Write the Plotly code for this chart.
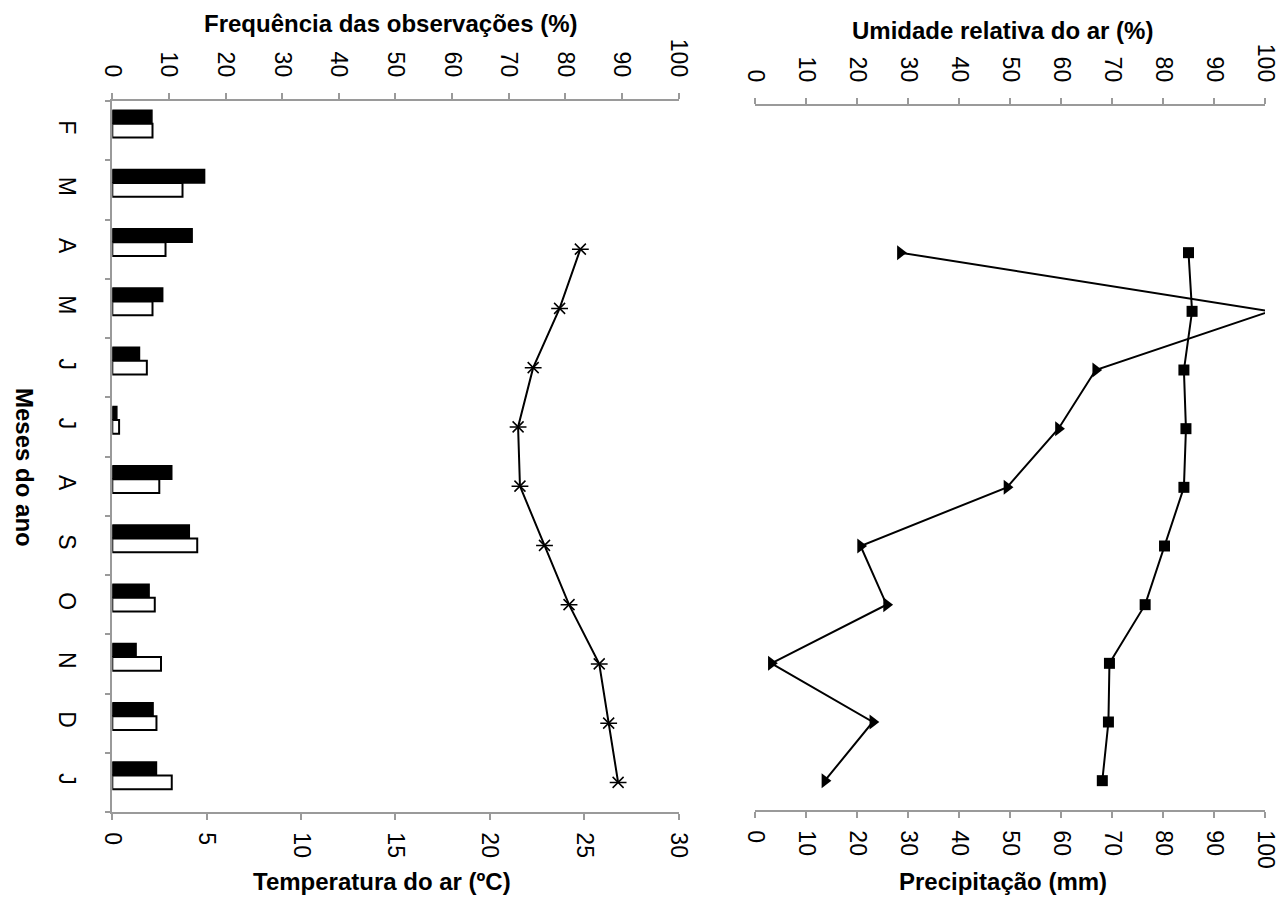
import plotly.graph_objects as go

# Months of the year (Feb through Jan)
months = ["F", "M", "A", "M", "J", "J", "A", "S", "O", "N", "D", "J"]

# Frequency of observations (%) - two series of bars
freq_black = [7.0, 16.3, 14.1, 8.9, 4.8, 0.8, 10.5, 13.6, 6.5, 4.2, 7.2, 7.8]
freq_white = [7.1, 12.4, 9.4, 7.1, 6.1, 1.2, 8.3, 15.0, 7.5, 8.6, 7.8, 10.5]

# Air temperature (ºC)
temperature = [None, None, 24.8, 23.7, 22.3, 21.5, 21.6, 22.9, 24.2, 25.8, 26.3, 26.8]

# Relative humidity (%)
humidity = [None, None, 85.0, 85.7, 84.1, 84.5, 84.1, 80.3, 76.5, 69.5, 69.3, 68.1]

# Precipitation (mm); March runs past the top of the scale
precipitation = [None, None, 28.5, 101.0, 66.8, 59.5, 49.4, 20.7, 25.8, 3.2, 23.1, 13.7]

pos = list(range(len(months)))

W, H = 1285, 901
FONT = "Liberation Sans, Arial, sans-serif"
AXIS_GREY = "#9a9a9a"


def px_x(v):
    return v / W


def px_y(v):
    return 1 - v / H


fig = go.Figure()

bar_w = 0.228
fig.add_trace(go.Bar(
    x=freq_black, y=pos, orientation="h", xaxis="x2", yaxis="y",
    width=bar_w, offset=-1.5 * bar_w,
    marker=dict(color="black", line=dict(color="black", width=1.5)),
    showlegend=False,
))
fig.add_trace(go.Bar(
    x=freq_white, y=pos, orientation="h", xaxis="x2", yaxis="y",
    width=bar_w, offset=-0.5 * bar_w,
    marker=dict(color="white", line=dict(color="black", width=2)),
    showlegend=False,
))

# Temperature: line with star markers (x plus a bar)
fig.add_trace(go.Scatter(
    x=temperature, y=pos, xaxis="x", yaxis="y", mode="lines+markers",
    line=dict(color="black", width=2),
    marker=dict(symbol="x-thin-open", size=11, color="black",
                line=dict(color="black", width=1.5)),
    showlegend=False,
))
fig.add_trace(go.Scatter(
    x=temperature, y=pos, xaxis="x", yaxis="y", mode="markers",
    marker=dict(symbol="line-ew-open", size=12, color="black",
                line=dict(color="black", width=1.5)),
    showlegend=False,
))

# Relative humidity: squares
fig.add_trace(go.Scatter(
    x=humidity, y=pos, xaxis="x4", yaxis="y2", mode="lines+markers",
    line=dict(color="black", width=2),
    marker=dict(symbol="square", size=11, color="black"),
    showlegend=False,
))

# Precipitation: triangles
fig.add_trace(go.Scatter(
    x=precipitation, y=pos, xaxis="x3", yaxis="y2", mode="lines+markers",
    line=dict(color="black", width=2),
    marker=dict(symbol="triangle-right", size=13, color="black"),
    cliponaxis=True,
    showlegend=False,
))

tickfont = dict(family=FONT, size=23, color="black")

left_dom = [px_x(112.3), px_x(678.5)]
right_dom = [px_x(755), px_x(1265)]
left_ydom = [px_y(812), px_y(101)]
right_ydom = [px_y(810), px_y(106)]

common_x = dict(
    showgrid=False, zeroline=False, showline=True, linecolor=AXIS_GREY, linewidth=1.5,
    ticks="outside", ticklen=6, tickcolor=AXIS_GREY, tickwidth=1.5,
    tickangle=90, tickfont=tickfont, ticklabelstandoff=8, automargin=False,
)

fig.update_layout(
    width=W, height=H,
    margin=dict(l=0, r=0, t=0, b=0),
    paper_bgcolor="white", plot_bgcolor="white",
    barmode="overlay",
    showlegend=False,
    xaxis=dict(domain=left_dom, anchor="y", side="bottom", range=[0, 30],
               tickvals=[0, 5, 10, 15, 20, 25, 30], **common_x),
    xaxis2=dict(domain=left_dom, anchor="y", overlaying="x", side="top", range=[0, 100],
                tickvals=list(range(0, 101, 10)), **common_x),
    xaxis3=dict(domain=right_dom, anchor="y2", side="bottom", range=[0, 100],
                tickvals=list(range(0, 101, 10)), **common_x),
    xaxis4=dict(domain=right_dom, anchor="y2", overlaying="x3", side="top", range=[0, 100],
                tickvals=list(range(0, 101, 10)), **common_x),
    yaxis=dict(domain=left_ydom, anchor="x", range=[11.5, -0.5], automargin=False,
               showgrid=False, zeroline=False, showline=True,
               linecolor=AXIS_GREY, linewidth=1.5,
               tickmode="array", tickvals=pos, ticktext=months,
               ticks="", tickangle=90, tickfont=tickfont, ticklabelstandoff=24,
               minor=dict(tickmode="array", tickvals=[p - 0.5 for p in pos] + [11.5],
                          ticks="outside", ticklen=6, tickcolor=AXIS_GREY, tickwidth=1.5,
                          showgrid=False)),
    yaxis2=dict(domain=right_ydom, anchor="x3", range=[11.5, -0.5], automargin=False,
                showgrid=False, zeroline=False, showline=False,
                showticklabels=False, ticks=""),
)

titlefont = dict(family=FONT, size=24, color="black")
titles = [
    ("<b>Frequência das observações (%)</b>", 391, 24, 0),
    ("<b>Umidade relativa do ar (%)</b>", 1002, 30, 0),
    ("<b>Temperatura do ar (ºC)</b>", 382, 881, 0),
    ("<b>Precipitação (mm)</b>", 1003, 881, 0),
    ("<b>Meses do ano</b>", 25, 467, 90),
]
for text, x, y, ang in titles:
    fig.add_annotation(text=text, x=px_x(x), y=px_y(y), xref="paper", yref="paper",
                       xanchor="center", yanchor="middle", showarrow=False,
                       textangle=ang, font=titlefont)

fig.write_html("out.html")
